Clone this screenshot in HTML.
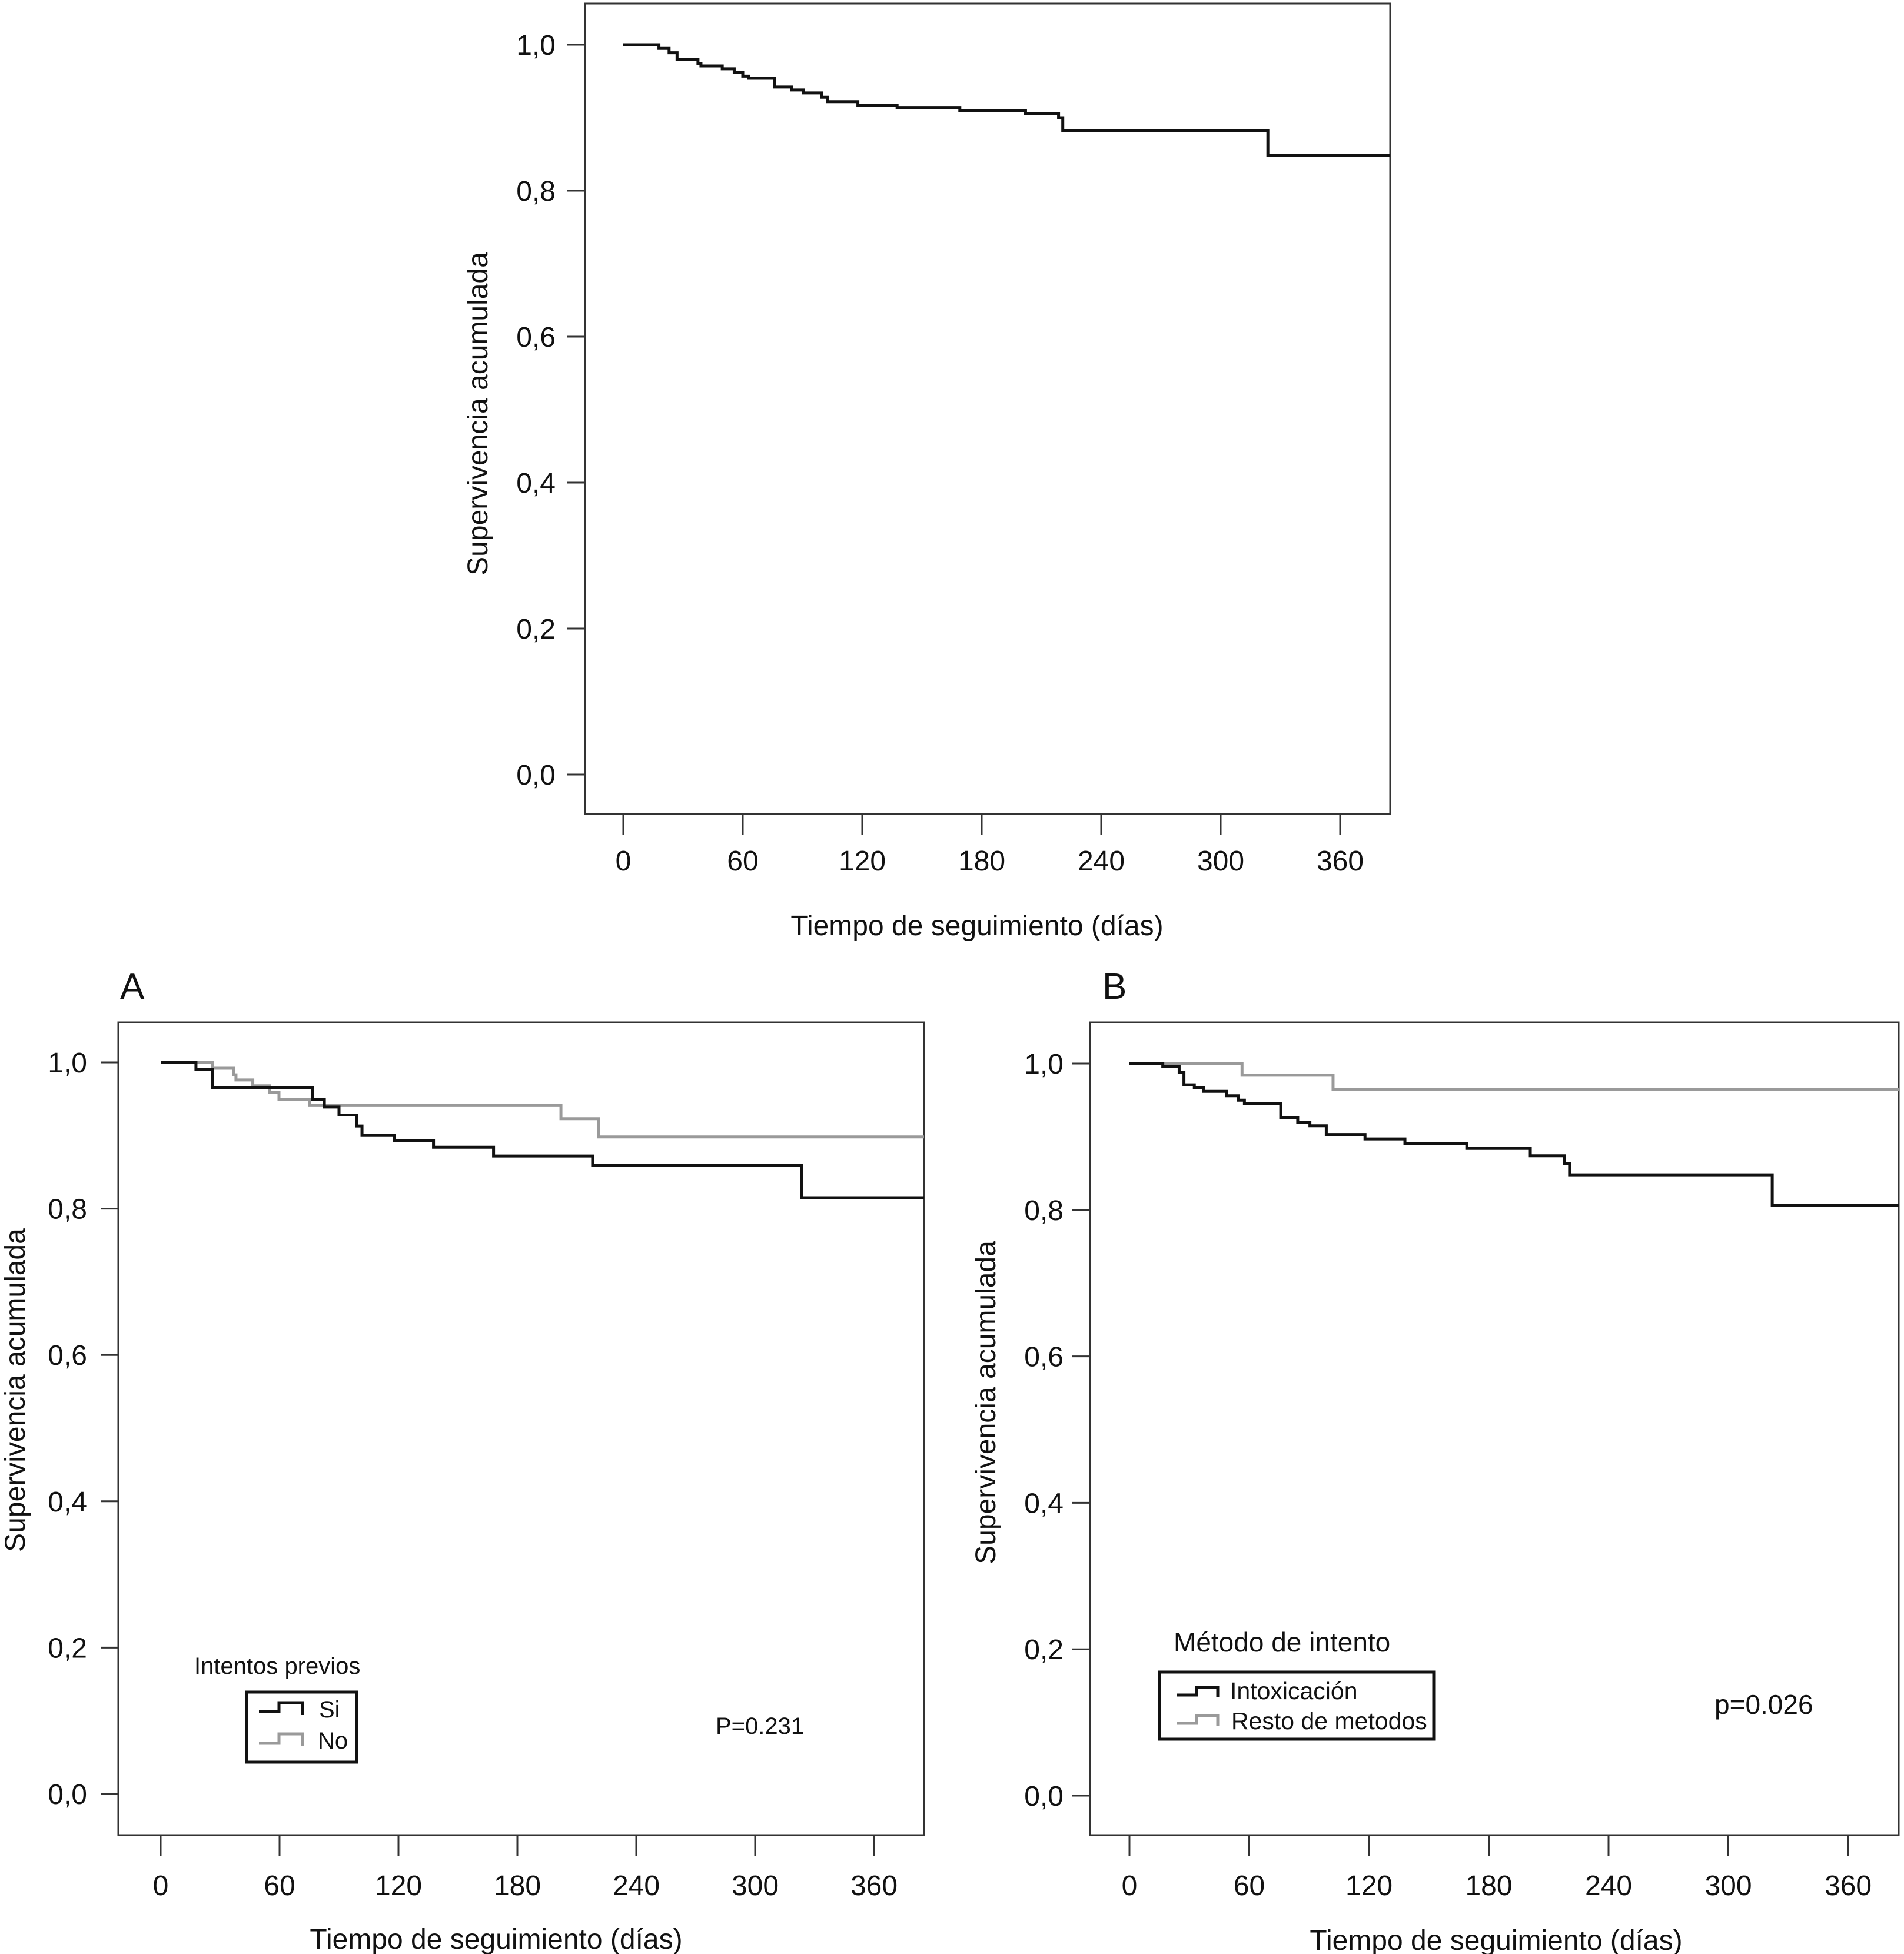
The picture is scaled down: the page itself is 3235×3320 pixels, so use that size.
<!DOCTYPE html>
<html><head><meta charset="utf-8"><style>
html,body{margin:0;padding:0;background:#fff;}
svg{display:block;font-family:"Liberation Sans",Arial,sans-serif;}
</style></head><body>
<svg id="fig" width="3235" height="3320" viewBox="0 0 3235 3320" xmlns="http://www.w3.org/2000/svg"></svg>
<script>
const yTickValues = [0, 0.2, 0.4, 0.6, 0.8, 1.0];
const yTickLabels = ["0,0", "0,2", "0,4", "0,6", "0,8", "1,0"];
const xTickValues = [0, 60, 120, 180, 240, 300, 360];
const xTickLabels = ["0", "60", "120", "180", "240", "300", "360"];

// Overall survival (top chart)
const overallTimes = [0, 17.9, 23, 27, 37.5, 39, 49.7, 55.7, 60, 63, 76, 84.5, 90.5, 99.6, 102.6, 117.8, 137.5, 169, 202, 218.6, 220.7, 323.7];
const overallSurv  = [1.0, 0.995, 0.989, 0.980, 0.974, 0.971, 0.967, 0.962, 0.957, 0.954, 0.942, 0.938, 0.934, 0.928, 0.922, 0.917, 0.914, 0.910, 0.906, 0.900, 0.882, 0.848];

// Panel A: previous attempts
const siTimes = [0, 17.8, 26, 76.5, 82.6, 90, 98.9, 101.6, 117.8, 137.7, 168, 218, 323.5];
const siSurv  = [1.0, 0.990, 0.965, 0.949, 0.939, 0.928, 0.913, 0.900, 0.893, 0.884, 0.872, 0.859, 0.815];
const noTimes = [0, 26, 36.7, 38, 46.5, 55, 59.7, 75, 202, 221];
const noSurv  = [1.0, 0.992, 0.983, 0.976, 0.968, 0.959, 0.949, 0.941, 0.923, 0.898];

// Panel B: attempt method
const intoxTimes = [0, 16.7, 24.9, 27.3, 32.5, 37, 48.5, 54.6, 57.6, 75.8, 84.3, 90.4, 98.6, 118, 138, 169, 200.8, 217.8, 220.5, 322];
const intoxSurv  = [1.0, 0.996, 0.988, 0.971, 0.967, 0.962, 0.956, 0.950, 0.945, 0.926, 0.920, 0.915, 0.903, 0.897, 0.891, 0.884, 0.874, 0.863, 0.848, 0.806];
const restoTimes = [0, 56.4, 102];
const restoSurv  = [1.0, 0.984, 0.965];

const NS = "http://www.w3.org/2000/svg";
const svg = document.getElementById("fig");
function mk(tag, attrs, parent, text) {
  const e = document.createElementNS(NS, tag);
  for (const k in attrs) e.setAttribute(k, attrs[k]);
  if (text !== undefined) e.textContent = text;
  (parent || svg).appendChild(e);
  return e;
}

function panel(cfg) {
  const g = mk("g", {});
  
  
  const xs = d => cfg.x0 + (cfg.x360 - cfg.x0) * d / 360;
  const ys = v => cfg.y0 + (cfg.y1 - cfg.y0) * v;
  const box = mk("rect", {x: cfg.L, y: cfg.T, width: cfg.R - cfg.L, height: cfg.B - cfg.T, fill: "none", stroke: "#333", "stroke-width": 3}, g);
  
  
  yTickValues.forEach((v, i) => {
    const t = mk("line", {x1: cfg.L - 30, x2: cfg.L, y1: ys(v), y2: ys(v), stroke: "#333", "stroke-width": 3}, g);
    
    
    const l = mk("text", {x: cfg.yLabelRight, y: ys(v) + 17, "font-size": 48, "text-anchor": "end", fill: "#111"}, g, yTickLabels[i]);
    
    
  });
  xTickValues.forEach((d, i) => {
    const t = mk("line", {x1: xs(d), x2: xs(d), y1: cfg.B, y2: cfg.B + 35, stroke: "#333", "stroke-width": 3}, g);
    
    
    const l = mk("text", {x: xs(d), y: cfg.xLabelY + 17, "font-size": 48, "text-anchor": "middle", fill: "#111"}, g, xTickLabels[i]);
    
    
  });
  const xt = mk("text", {x: cfg.xTitleX, y: cfg.xTitleY + 17, "font-size": 48, "text-anchor": "middle", fill: "#111"}, g, "Tiempo de seguimiento (días)");
  
  
  const yt = mk("text", {x: 0, y: 0, "font-size": 48, "text-anchor": "middle", fill: "#111", transform: `translate(${cfg.yTitleX + 17},${cfg.yTitleY}) rotate(-90)`}, g, "Supervivencia acumulada");
  
  
  cfg.series.forEach(s => {
    let d = `M${xs(s.t[0])},${ys(s.v[0])}`;
    for (let i = 1; i < s.t.length; i++) {
      d += ` H${xs(s.t[i])} V${ys(s.v[i])}`;
    }
    d += ` H${cfg.R}`;
    const p = mk("path", {d: d, fill: "none", stroke: s.color, "stroke-width": 5}, g);
    
    
  });
  return g;
}

panel({name: "overall-survival-chart", L: 994, R: 2362, T: 6, B: 1383, x0: 1059, x360: 2277, y0: 1316, y1: 76,
  yLabelRight: 944, xLabelY: 1462, xTitleX: 1660, xTitleY: 1572, yTitleX: 811, yTitleY: 703,
  series: [{name: "overall-survival-curve", t: overallTimes, v: overallSurv, color: "#111"}]});

panel({name: "chart-a", L: 201, R: 1570, T: 1737, B: 3118, x0: 273, x360: 1485, y0: 3048, y1: 1805,
  yLabelRight: 148, xLabelY: 3203, xTitleX: 843, xTitleY: 3294, yTitleX: 25, yTitleY: 2362,
  series: [{name: "series-no", t: noTimes, v: noSurv, color: "#9a9a9a"},
           {name: "series-si", t: siTimes, v: siSurv, color: "#111"}]});

panel({name: "chart-b", L: 1852, R: 3226, T: 1737, B: 3118, x0: 1919, x360: 3140, y0: 3051, y1: 1807,
  yLabelRight: 1807, xLabelY: 3203, xTitleX: 2542, xTitleY: 3296, yTitleX: 1674, yTitleY: 2383,
  series: [{name: "series-resto", t: restoTimes, v: restoSurv, color: "#9a9a9a"},
           {name: "series-intoxicacion", t: intoxTimes, v: intoxSurv, color: "#111"}]});
</script>
<svg style="position:absolute;left:0;top:0" width="3235" height="3320" font-family="Liberation Sans, Arial, sans-serif">
  <text x="204" y="1697" font-size="62" fill="#111">A</text>
  <text x="1873" y="1697" font-size="62" fill="#111">B</text>
  <g>
    <text x="330" y="2844" font-size="40" fill="#111">Intentos previos</text>
    <rect x="419" y="2875" width="187" height="119" fill="#fff" stroke="#111" stroke-width="5"/>
    <path d="M440,2908 H474 V2893 H514 V2914" fill="none" stroke="#111" stroke-width="5"/>
    <text x="542" y="2918" font-size="40" fill="#111">Si</text>
    <path d="M440,2962 H474 V2946 H514 V2966" fill="none" stroke="#9a9a9a" stroke-width="5"/>
    <text x="540" y="2971" font-size="40" fill="#111">No</text>
  </g>
  <text x="1216" y="2946" font-size="40" fill="#111">P=0.231</text>
  <g>
    <text x="1994" y="2806" font-size="46" fill="#111">Método de intento</text>
    <rect x="1970" y="2841" width="466" height="114" fill="#fff" stroke="#111" stroke-width="5"/>
    <path d="M1999,2880 H2033 V2867 H2069 V2884" fill="none" stroke="#111" stroke-width="5"/>
    <text x="2090" y="2887" font-size="41" fill="#111">Intoxicación</text>
    <path d="M1999,2928 H2033 V2915 H2069 V2932" fill="none" stroke="#9a9a9a" stroke-width="5"/>
    <text x="2092" y="2938" font-size="41" fill="#111">Resto de metodos</text>
  </g>
  <text x="2913" y="2912" font-size="46" fill="#111">p=0.026</text>
</svg>
</body></html>
